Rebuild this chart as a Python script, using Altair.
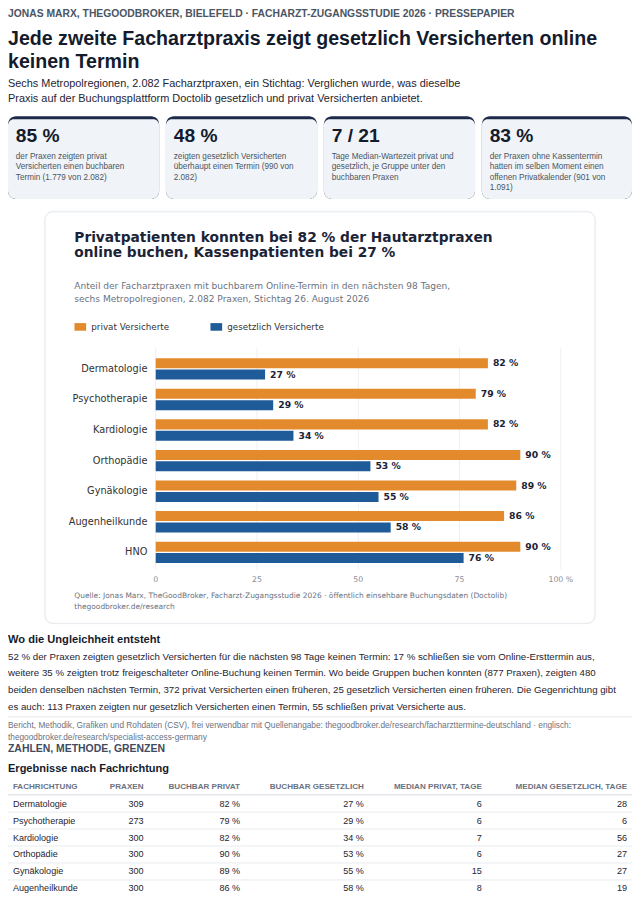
import altair as alt
import pandas as pd

# ---------------- data ----------------
kategorien = ["Dermatologie", "Psychotherapie", "Kardiologie", "Orthopädie",
              "Gynäkologie", "Augenheilkunde", "HNO"]
privat = [82, 79, 82, 90, 89, 86, 90]
gesetzlich = [27, 29, 34, 53, 55, 58, 76]
gruppen = ["privat Versicherte", "gesetzlich Versicherte"]
farben = ["#E38B2C", "#1F5A99"]
ticks = [0, 25, 50, 75, 100]
tick_labels = ["0", "25", "50", "75", "100 %"]

kopfzeile = "JONAS MARX, THEGOODBROKER, BIELEFELD · FACHARZT-ZUGANGSSTUDIE 2026 · PRESSEPAPIER"
titel = ["Jede zweite Facharztpraxis zeigt gesetzlich Versicherten online", "keinen Termin"]
untertitel = ["Sechs Metropolregionen, 2.082 Facharztpraxen, ein Stichtag: Verglichen wurde, was dieselbe",
              "Praxis auf der Buchungsplattform Doctolib gesetzlich und privat Versicherten anbietet."]
kpi_werte = ["85 %", "48 %", "7 / 21", "83 %"]
kpi_texte = [
    ["der Praxen zeigten privat", "Versicherten einen buchbaren", "Termin (1.779 von 2.082)"],
    ["zeigten gesetzlich Versicherten", "überhaupt einen Termin (990 von", "2.082)"],
    ["Tage Median-Wartezeit privat und", "gesetzlich, je Gruppe unter den", "buchbaren Praxen"],
    ["der Praxen ohne Kassentermin", "hatten im selben Moment einen", "offenen Privatkalender (901 von", "1.091)"],
]
chart_titel = ["Privatpatienten konnten bei 82 % der Hautarztpraxen",
               "online buchen, Kassenpatienten bei 27 %"]
chart_untertitel = ["Anteil der Facharztpraxen mit buchbarem Online-Termin in den nächsten 98 Tagen,",
                    "sechs Metropolregionen, 2.082 Praxen, Stichtag 26. August 2026"]
quelle = ["Quelle: Jonas Marx, TheGoodBroker, Facharzt-Zugangsstudie 2026 · öffentlich einsehbare Buchungsdaten (Doctolib)",
          "thegoodbroker.de/research"]
abschnitt_titel = "Wo die Ungleichheit entsteht"
absatz = [
    "52 % der Praxen zeigten gesetzlich Versicherten für die nächsten 98 Tage keinen Termin: 17 % schließen sie vom Online-Ersttermin aus,",
    "weitere 35 % zeigten trotz freigeschalteter Online-Buchung keinen Termin. Wo beide Gruppen buchen konnten (877 Praxen), zeigten 480",
    "beiden denselben nächsten Termin, 372 privat Versicherten einen früheren, 25 gesetzlich Versicherten einen früheren. Die Gegenrichtung gibt",
    "es auch: 113 Praxen zeigten nur gesetzlich Versicherten einen Termin, 55 schließen privat Versicherte aus.",
]
bericht = ["Bericht, Methodik, Grafiken und Rohdaten (CSV), frei verwendbar mit Quellenangabe: thegoodbroker.de/research/facharzttermine-deutschland · englisch:",
           "thegoodbroker.de/research/specialist-access-germany"]
zahlen_titel = "ZAHLEN, METHODE, GRENZEN"
tabelle_titel = "Ergebnisse nach Fachrichtung"
spalten = ["FACHRICHTUNG", "PRAXEN", "BUCHBAR PRIVAT", "BUCHBAR GESETZLICH",
           "MEDIAN PRIVAT, TAGE", "MEDIAN GESETZLICH, TAGE"]
tab_fach = ["Dermatologie", "Psychotherapie", "Kardiologie", "Orthopädie", "Gynäkologie", "Augenheilkunde"]
tab_praxen = [309, 273, 300, 300, 300, 300]
tab_privat = [82, 79, 82, 90, 89, 86]
tab_gesetzlich = [27, 29, 34, 53, 55, 58]
tab_med_privat = [6, 6, 7, 6, 15, 8]
tab_med_gesetzlich = [28, 6, 56, 27, 27, 19]

# ---------------- layout helpers ----------------
SANS = "Liberation Sans"
DV = "DejaVu Sans"
S = 0.975            # page is drawn at 97.5 % so that it fits beside the 8px page margin
W, H = 624, 888


def P(r):
    return r * S


def F(size):
    return round(size * S, 2)


base = alt.Chart(pd.DataFrame({"k": [0]}))


def txt(x, yc, lines, size, color, weight="normal", font=SANS, lh=None, align="left"):
    fs = F(size)
    kw = dict(align=align, baseline="alphabetic", fontSize=fs, font=font,
              color=color, fontWeight=weight)
    if lh:
        kw["lineHeight"] = P(lh)
    t = lines if isinstance(lines, str) else (lines if len(lines) > 1 else lines[0])
    return base.mark_text(**kw).encode(
        x=alt.value(P(x)), y=alt.value(P(yc) + 0.33 * fs), text=alt.value(t))


def box(x0, x1, y0, y1, fill, stroke=None, radius=0):
    mk = dict(fill=fill, cornerRadius=radius)
    if stroke:
        mk["stroke"] = stroke
        mk["strokeWidth"] = 1
    return base.mark_rect(**mk).encode(
        x=alt.value(P(x0)), x2=alt.value(P(x1)), y=alt.value(P(y0)), y2=alt.value(P(y1)))


def hline(x0, x1, y, color, width=1):
    return base.mark_rule(color=color, strokeWidth=width).encode(
        x=alt.value(P(x0)), x2=alt.value(P(x1)), y=alt.value(P(y)))


deco = []
# header
deco.append(txt(0, 5.5, kopfzeile, 10.6, "#4b5563", "bold"))
deco.append(txt(0, 31, titel, 20.1, "#141b2d", "bold", lh=24))
deco.append(txt(0, 77, untertitel, 11.2, "#1f2430", lh=16))

# KPI cards
card_x = [0, 162, 324, 486]
card_w = 155
for i in range(4):
    x0, x1 = card_x[i], min(card_x[i] + card_w, 640)
    deco.append(box(x0, x1, 111, 196, "#1c2b4a", radius=8))
    deco.append(base.mark_rect(fill="#f0f4f8", cornerRadiusTopLeft=6, cornerRadiusTopRight=6,
                               cornerRadiusBottomLeft=8, cornerRadiusBottomRight=8).encode(
        x=alt.value(P(x0)), x2=alt.value(P(x1)), y=alt.value(P(114)), y2=alt.value(P(196))))
    deco.append(txt(x0 + 8, 131, kpi_werte[i], 19.7, "#141b2d", "bold"))
    deco.append(txt(x0 + 8, 152, kpi_texte[i], 8.4, "#4b5563", lh=10.8))

# chart card
deco.append(box(37, 603, 208, 632, "#f4f5f7", radius=9))
deco.append(box(38, 602, 209, 631, "#ffffff", stroke="#e6e9ee", radius=8))
deco.append(txt(68, 235, chart_titel, 14.1, "#1b2336", "bold", font=DV, lh=16))
deco.append(txt(68, 285, chart_untertitel, 9.3, "#6b7280", font=DV, lh=13))
deco.append(txt(68, 603, quelle, 7.65, "#6b7280", font=DV, lh=10.5))

# text below chart
deco.append(txt(0, 648, abschnitt_titel, 11.4, "#141b2d", "bold"))
deco.append(txt(0, 665, absatz, 9.95, "#1f2430", lh=17.3))
deco.append(hline(0, 640, 727, "#e5e7eb"))
deco.append(txt(0, 736, bericht, 8.5, "#6b7280", lh=11.5))
deco.append(txt(0, 760, zahlen_titel, 10.7, "#3f4a5e", "bold"))
deco.append(txt(0, 780, tabelle_titel, 11.3, "#141b2d", "bold"))

# ---------------- bar chart ----------------
df_bars = pd.DataFrame({
    "Fachrichtung": kategorien * 2,
    "Gruppe": [gruppen[0]] * len(kategorien) + [gruppen[1]] * len(kategorien),
    "Anteil": privat + gesetzlich,
})
df_bars["Label"] = df_bars["Anteil"].astype(str) + " %"
df_ticks = pd.DataFrame({"Tick": ticks, "TickLabel": tick_labels})
df_kat = pd.DataFrame({"Fachrichtung": kategorien})

x_scale = alt.Scale(domain=[0, 100], range=[P(151.5), P(567)], zero=True, nice=False)
y_scale = alt.Scale(domain=kategorien, range=[P(354.5), P(574)], paddingInner=0.3, paddingOuter=0.15)
yo_scale = alt.Scale(domain=gruppen, paddingInner=0.12)

y_enc = alt.Y("Fachrichtung:N", scale=y_scale, sort=kategorien, axis=None)
yo_enc = alt.YOffset("Gruppe:N", scale=yo_scale, sort=gruppen)

grid = alt.Chart(df_ticks).mark_rule(color="#eceff3", strokeWidth=1).encode(
    x=alt.X("Tick:Q", scale=x_scale, axis=None),
    y=alt.value(P(348)), y2=alt.value(P(576)))

tick_text = alt.Chart(df_ticks).mark_text(
    font=DV, fontSize=F(8), color="#8a8f98", baseline="middle", align="center").encode(
    x=alt.X("Tick:Q", scale=x_scale, axis=None),
    y=alt.value(P(587)), text="TickLabel:N")

bars = alt.Chart(df_bars).mark_bar().encode(
    x=alt.X("Anteil:Q", scale=x_scale, axis=None),
    y=y_enc, yOffset=yo_enc,
    color=alt.Color("Gruppe:N", sort=gruppen,
                    scale=alt.Scale(domain=gruppen, range=farben),
                    legend=alt.Legend(orient="none", legendX=P(68), legendY=P(328) - 7,
                                      direction="horizontal", title=None,
                                      symbolType="M-1,-0.65L1,-0.65L1,0.65L-1,0.65Z",
                                      symbolSize=(12 * S) ** 2, symbolStrokeWidth=0,
                                      symbolOpacity=1,
                                      labelFont=DV, labelFontSize=F(9), labelColor="#333333",
                                      labelOffset=5, columnPadding=41)),
)

values = alt.Chart(df_bars).mark_text(
    font=DV, fontSize=F(9.5), fontWeight="bold", color="#1b2336",
    align="left", baseline="middle", dx=5).encode(
    x=alt.X("Anteil:Q", scale=x_scale, axis=None),
    y=y_enc, yOffset=yo_enc, text="Label:N")

cat_text = alt.Chart(df_kat).mark_text(
    font=DV, fontSize=F(10), color="#333333", align="right", baseline="middle").encode(
    x=alt.value(P(143)), y=y_enc, text="Fachrichtung:N")

bar_layer = alt.layer(grid, bars, values, cat_text, tick_text)

# ---------------- table ----------------
tab_df = pd.DataFrame({
    "Zeile": tab_fach,
    "c0": tab_fach,
    "c1": [str(v) for v in tab_praxen],
    "c2": [f"{v} %" for v in tab_privat],
    "c3": [f"{v} %" for v in tab_gesetzlich],
    "c4": [str(v) for v in tab_med_privat],
    "c5": [str(v) for v in tab_med_gesetzlich],
})
col_x = [5, 139, 238, 365, 486, 635]
row_first, row_step = 816, 17.4
row_scale = alt.Scale(type="point", domain=tab_fach,
                      range=[P(row_first), P(row_first + row_step * (len(tab_fach) - 1))], padding=0)

tab_layers = []
for i in range(6):
    tab_layers.append(alt.Chart(tab_df).mark_text(
        font=SANS, fontSize=F(9.3), color="#1f2430",
        align="left" if i == 0 else "right", baseline="middle").encode(
        x=alt.value(P(col_x[i])),
        y=alt.Y("Zeile:N", scale=row_scale, sort=tab_fach, axis=None),
        text=alt.Text(f"c{i}:N")))
    deco.append(txt(col_x[i], 798, spalten[i], 8.3, "#6b7280", "bold",
                    align="left" if i == 0 else "right"))

deco.append(hline(0, 640, 807, "#d5dbe3"))
for k in range(5):
    deco.append(hline(0, 640, row_first + row_step * k + 8.7, "#e8ebef"))

table_layer = alt.layer(*tab_layers)

chart = alt.layer(*deco, bar_layer, table_layer).resolve_scale(
    x="independent", y="independent"
).properties(
    width=W, height=H, padding=0,
    autosize=alt.AutoSizeParams(type="none"),
    background="#ffffff",
).configure_view(strokeWidth=0)

chart.save("out.html", embed_options={"renderer": "svg", "actions": False})
